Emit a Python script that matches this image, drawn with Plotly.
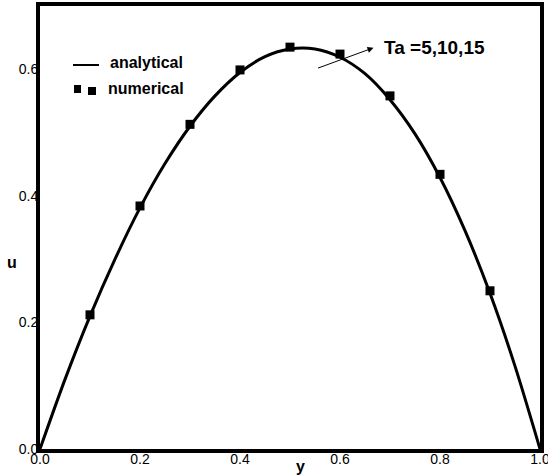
import plotly.graph_objects as go

# Analytical velocity profile u(y), sampled along the channel width
y_analytical = [0.00, 0.05, 0.10, 0.15, 0.20, 0.25, 0.30, 0.35, 0.40, 0.45, 0.50,
                0.55, 0.60, 0.65, 0.70, 0.75, 0.80, 0.85, 0.90, 0.95, 1.00]
u_analytical = [0.000, 0.110, 0.210, 0.300, 0.381, 0.451, 0.510, 0.558, 0.595, 0.620, 0.632,
                0.632, 0.619, 0.593, 0.552, 0.498, 0.429, 0.345, 0.246, 0.131, 0.000]

# Numerical solution at the grid nodes
y_numerical = [0.1, 0.2, 0.3, 0.4, 0.5, 0.6, 0.7, 0.8, 0.9]
u_numerical = [0.212, 0.384, 0.513, 0.599, 0.635, 0.624, 0.558, 0.434, 0.250]

x_ticks = [0.0, 0.2, 0.4, 0.6, 0.8, 1.0]
u_ticks = [0.0, 0.2, 0.4, 0.6]

FONT = "Liberation Sans, Arial, sans-serif"
W, H = 548, 476
ML, MR, MT, MB = 40, 8, 6, 27
PW, PH = W - ML - MR, H - MT - MB


def px(xp):
    return (xp - ML) / PW


def py(yp):
    return (H - MB - yp) / PH


fig = go.Figure()
fig.add_trace(go.Scatter(
    x=y_analytical, y=u_analytical, mode="lines",
    line=dict(color="black", width=3, shape="spline", smoothing=0.8),
    name="analytical", showlegend=False, cliponaxis=False,
))
fig.add_trace(go.Scatter(
    x=y_numerical, y=u_numerical, mode="markers",
    marker=dict(symbol="square", size=9, color="black"),
    name="numerical", showlegend=False,
))

axis_common = dict(
    showgrid=False, zeroline=False, showline=True, linecolor="black",
    linewidth=4, mirror=True, ticks="", automargin=False,
    ticklabeloverflow="allow",
    tickfont=dict(family=FONT, size=14, color="black"),
)
fig.update_xaxes(range=[0, 1], tickvals=x_ticks, ticktext=[f"{v:.1f}" for v in x_ticks],
                 ticklabelstandoff=-6, **axis_common)
fig.update_yaxes(range=[0, 0.7], tickvals=u_ticks, ticktext=[f"{v:.1f}" for v in u_ticks],
                 ticklabelstandoff=-5, **axis_common)

shapes = [
    # legend: line sample
    dict(type="line", xref="paper", yref="paper", x0=px(73), x1=px(99), y0=py(65), y1=py(65),
         line=dict(color="black", width=2)),
    # legend: two square symbols
    dict(type="rect", xref="paper", yref="paper", x0=px(74), x1=px(81), y0=py(93), y1=py(85),
         fillcolor="black", line=dict(width=0)),
    dict(type="rect", xref="paper", yref="paper", x0=px(88), x1=px(96), y0=py(95), y1=py(87),
         fillcolor="black", line=dict(width=0)),
]

bold = dict(family=FONT, color="black", weight="bold")
annotations = [
    dict(text="analytical", xref="paper", yref="paper", x=px(108), y=py(63),
         xanchor="left", yanchor="middle", showarrow=False, font=dict(size=16, **bold)),
    dict(text="numerical", xref="paper", yref="paper", x=px(106), y=py(88),
         xanchor="left", yanchor="middle", showarrow=False, font=dict(size=16, **bold)),
    # arrow pointing towards the parameter label
    dict(text="", x=0.667, y=0.634, ax=0.553, ay=0.601, xref="x", yref="y",
         axref="x", ayref="y", showarrow=True, arrowhead=2, arrowsize=1.2,
         arrowwidth=1, arrowcolor="black", standoff=0, startstandoff=0),
    dict(text="Ta =5,10,15", x=0.684, y=0.634, xref="x", yref="y",
         xanchor="left", yanchor="middle", showarrow=False, font=dict(size=19, **bold)),
    # axis titles
    dict(text="u", xref="paper", yref="paper", x=px(12), y=py(262),
         xanchor="center", yanchor="middle", showarrow=False, font=dict(size=16, **bold)),
    dict(text="y", xref="paper", yref="paper", x=px(300), y=py(466),
         xanchor="center", yanchor="middle", showarrow=False, font=dict(size=16, **bold)),
]

fig.update_layout(
    width=W, height=H,
    margin=dict(l=ML, r=MR, t=MT, b=MB),
    paper_bgcolor="white", plot_bgcolor="white",
    shapes=shapes, annotations=annotations,
    showlegend=False,
)

fig.write_html("out.html")
